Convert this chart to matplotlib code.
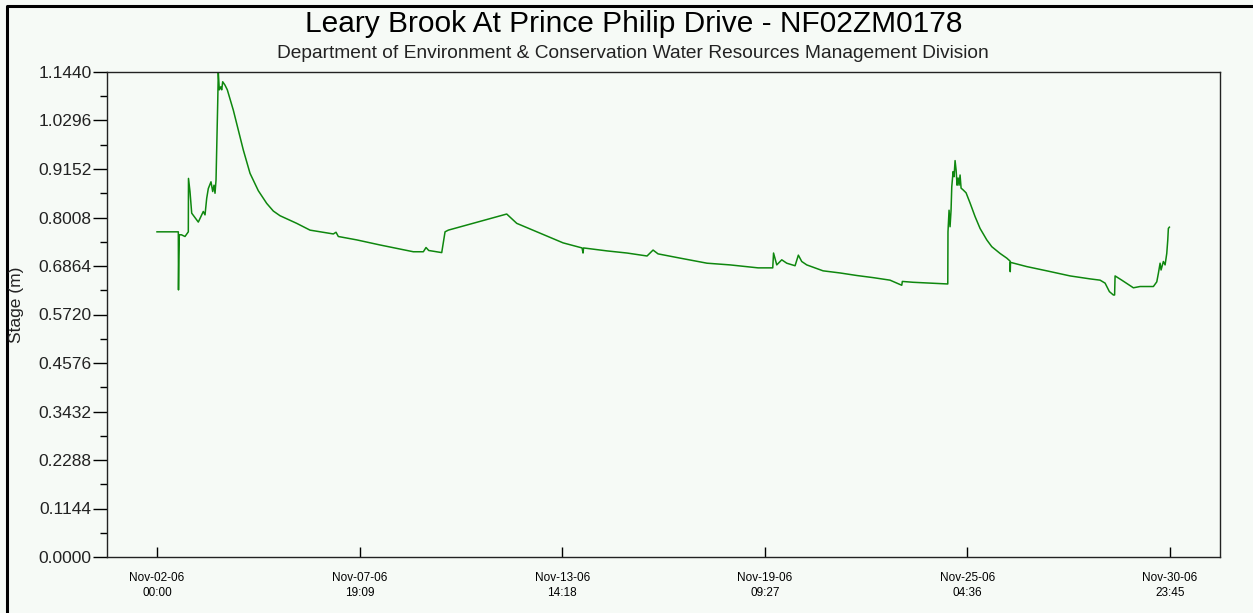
import matplotlib
matplotlib.use('Agg')
import matplotlib.pyplot as plt
from matplotlib.lines import Line2D
import pandas as pd

# Data, days since Nov-02-06 00:00 and stage in m
days = [0.000, 0.610, 0.615, 0.624, 0.638, 0.700, 0.801, 0.896, 0.901, 0.944,
        0.993, 1.182, 1.325, 1.374, 1.422, 1.468, 1.545, 1.594, 1.631, 1.660,
        1.689, 1.709, 1.737, 1.754, 1.783, 1.823, 1.852, 1.880, 1.946, 2.012,
        2.041, 2.184, 2.327, 2.470, 2.662, 2.899, 3.140, 3.329, 3.520, 3.998,
        4.379, 4.760, 5.046, 5.123, 5.189, 5.715, 6.382, 7.335, 7.622, 7.699,
        7.776, 8.148, 8.243, 8.337, 10.008, 10.295, 10.961, 11.620, 12.164, 12.192,
        12.207, 12.879, 13.451, 14.024, 14.196, 14.339, 14.968, 15.741, 16.399, 17.201,
        17.621, 17.644, 17.736, 17.879, 18.022, 18.260, 18.354, 18.451, 18.594, 19.061,
        19.547, 20.025, 20.492, 20.978, 21.313, 21.330, 21.637, 22.123, 22.630, 22.636,
        22.667, 22.695, 22.724, 22.744, 22.782, 22.810, 22.839, 22.868, 22.896, 22.925,
        22.953, 22.982, 23.011, 23.068, 23.154, 23.268, 23.411, 23.554, 23.746, 23.889,
        24.127, 24.318, 24.413, 24.418, 24.425, 24.891, 25.463, 26.130, 26.702, 26.989,
        27.132, 27.255, 27.369, 27.404, 27.418, 27.610, 27.942, 28.133, 28.514, 28.611,
        28.657, 28.706, 28.734, 28.800, 28.849, 28.897, 28.926, 28.943, 28.972]
stage = [0.767, 0.767, 0.630, 0.700, 0.760, 0.760, 0.756, 0.767, 0.893, 0.862,
         0.811, 0.790, 0.815, 0.807, 0.846, 0.869, 0.885, 0.862, 0.877, 0.858,
         0.889, 0.960, 1.070, 1.144, 1.102, 1.109, 1.102, 1.121, 1.113, 1.102,
         1.094, 1.054, 1.007, 0.960, 0.905, 0.864, 0.834, 0.816, 0.805, 0.787,
         0.771, 0.766, 0.762, 0.766, 0.756, 0.748, 0.736, 0.720, 0.720, 0.730,
         0.723, 0.718, 0.767, 0.771, 0.809, 0.787, 0.764, 0.741, 0.729, 0.717,
         0.729, 0.722, 0.717, 0.710, 0.724, 0.715, 0.705, 0.693, 0.689, 0.682,
         0.682, 0.717, 0.689, 0.701, 0.693, 0.687, 0.712, 0.697, 0.689, 0.675,
         0.670, 0.664, 0.659, 0.653, 0.641, 0.650, 0.648, 0.646, 0.644, 0.767,
         0.818, 0.779, 0.818, 0.873, 0.909, 0.897, 0.935, 0.913, 0.877, 0.894,
         0.877, 0.901, 0.870, 0.866, 0.859, 0.835, 0.803, 0.775, 0.748, 0.732,
         0.716, 0.705, 0.698, 0.673, 0.695, 0.685, 0.675, 0.663, 0.656, 0.653,
         0.646, 0.626, 0.618, 0.618, 0.663, 0.653, 0.635, 0.638, 0.638, 0.649,
         0.669, 0.693, 0.677, 0.697, 0.689, 0.716, 0.748, 0.775, 0.778]

y_ticks = [0.0, 0.1144, 0.2288, 0.3432, 0.4576, 0.5720, 0.6864, 0.8008, 0.9152, 1.0296, 1.1440]
x_tick_labels = ['Nov-02-06\n00:00', 'Nov-07-06\n19:09', 'Nov-13-06\n14:18',
                 'Nov-19-06\n09:27', 'Nov-25-06\n04:36', 'Nov-30-06\n23:45']

start = pd.Timestamp('2006-11-02 00:00')
end = pd.Timestamp('2006-11-30 23:45')
times = [start + pd.Timedelta(days=d) for d in days]

bg = '#f6faf6'
plt.rcParams['font.family'] = ['Liberation Sans', 'DejaVu Sans']

fig = plt.figure(figsize=(12.53, 6.13), dpi=100, facecolor=bg)
ax = fig.add_axes([107 / 1253, 56 / 613, 1113 / 1253, 485 / 613], facecolor=bg)

ax.plot(times, stage, color='#0e870e', lw=1.1)

# x axis: 6 evenly spaced ticks from first to last reading
step = (end - start) / 5
xt = [start + step * k for k in range(6)]
pad = pd.Timedelta(days=1.431)
ax.set_xlim(start - pad, end + pad)
ax.set_xticks(xt)
ax.set_xticklabels(x_tick_labels, fontsize=8.5, linespacing=1.35)
ax.tick_params(axis='x', direction='in', length=7, width=1, pad=11)

ax.set_ylim(0, 1.144)
ax.set_yticks(y_ticks)
ax.set_yticklabels(['%.4f' % v for v in y_ticks], fontsize=12.5, color='#222222')
ax.set_yticks([v + 0.0572 for v in y_ticks[:-1]], minor=True)
ax.tick_params(axis='y', which='major', direction='out', length=10, width=1, pad=1)
ax.tick_params(axis='y', which='minor', direction='out', length=5, width=1)

for s in ax.spines.values():
    s.set_linewidth(1)
    s.set_color('#222222')

fig.text(17 / 1253, 1 - 305 / 613, 'Stage (m)', rotation=90, ha='center', va='center',
         fontsize=12.5, color='#222222')
fig.text(634 / 1253, 1 - 24 / 613, 'Leary Brook At Prince Philip Drive - NF02ZM0178',
         ha='center', va='center', fontsize=21.5)
fig.text(633 / 1253, 1 - 53 / 613,
         'Department of Environment & Conservation Water Resources Management Division',
         ha='center', va='center', fontsize=13.8, color='#222222')

# outer frame (left and top edges)
fig.add_artist(Line2D([7 / 1253, 7 / 1253, 1], [0, 1 - 6 / 613, 1 - 6 / 613],
                      transform=fig.transFigure, color='black', lw=2.2))

fig.savefig('out.png', dpi=100, facecolor=bg)
